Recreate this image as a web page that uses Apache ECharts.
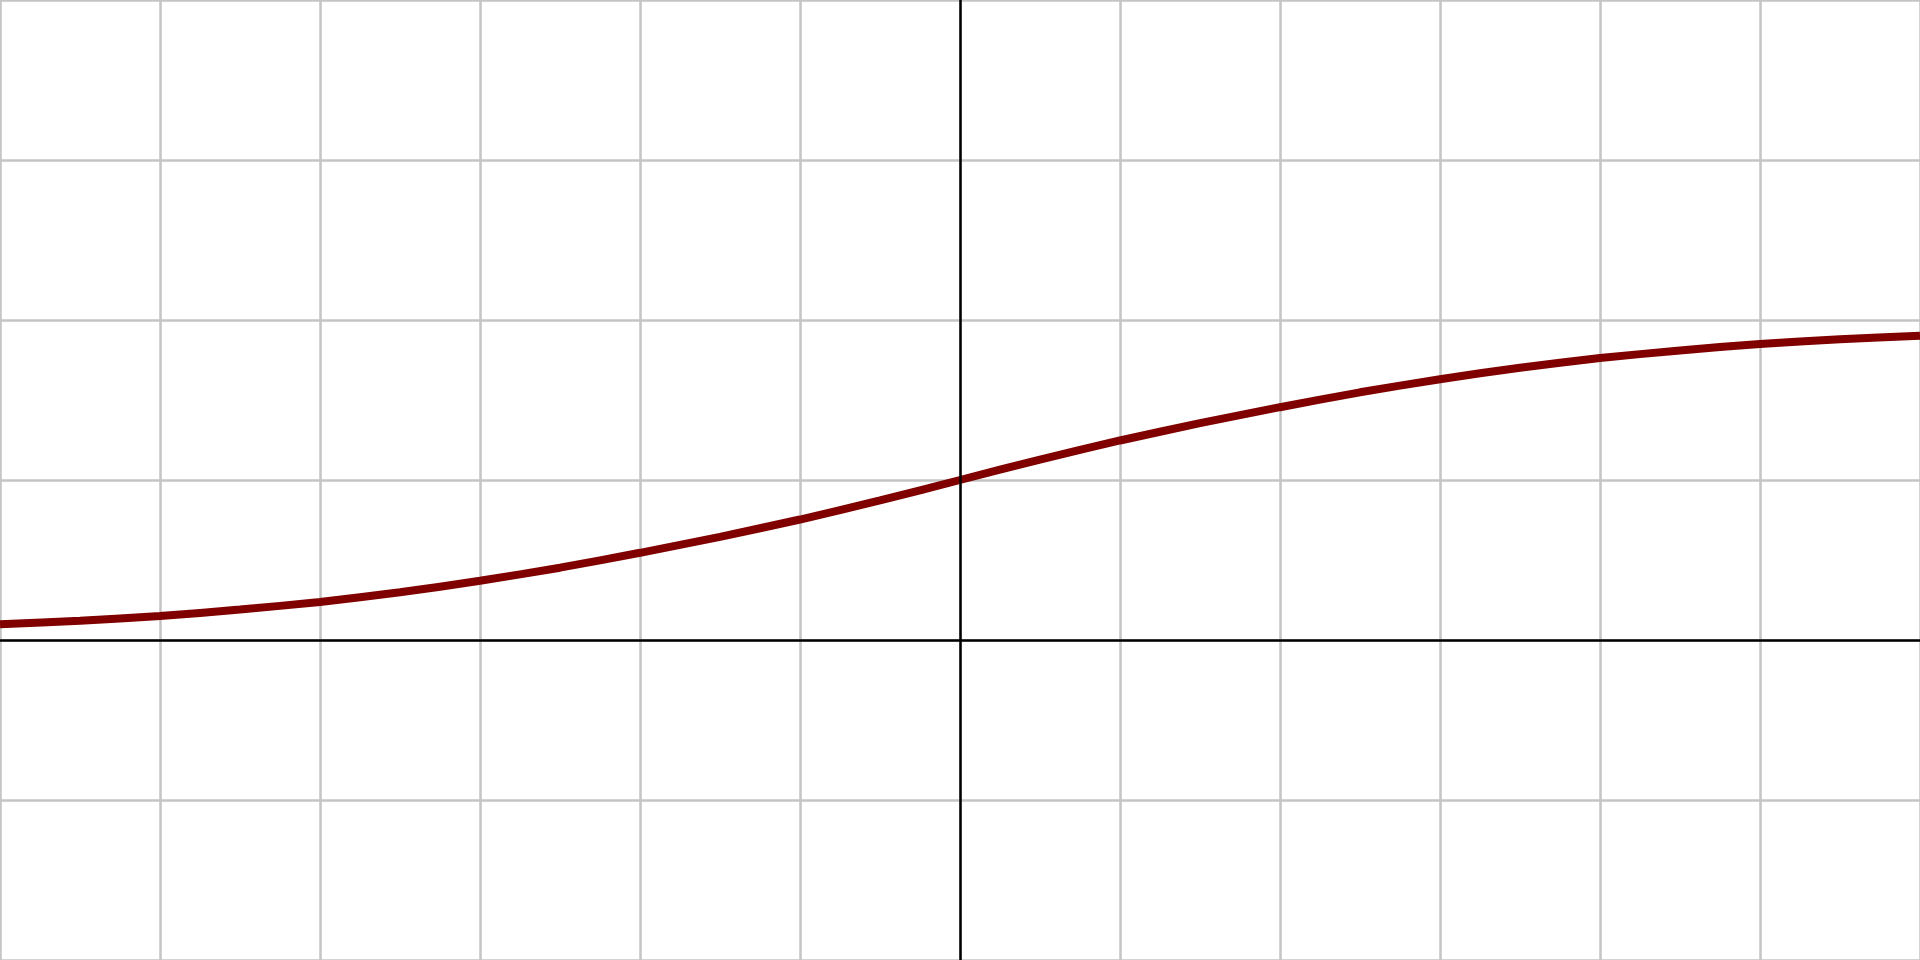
<!DOCTYPE html>
<html>
<head>
<meta charset="utf-8">
<title>curve</title>
<script src="https://cdn.jsdelivr.net/npm/echarts@6/dist/echarts.min.js"></script>
<style>
  html, body { margin: 0; padding: 0; background: #fff; }
  #chart { width: 1920px; height: 960px; }
</style>
</head>
<body>
<div id="chart"></div>
<script>
// values, every 0.5 along x
const xs = [-6, -5.5, -5, -4.5, -4, -3.5, -3, -2.5, -2, -1.5, -1, -0.5, 0,
  0.5, 1, 1.5, 2, 2.5, 3, 3.5, 4, 4.5, 5, 5.5, 6]
const ys = [0.098, 0.12, 0.15, 0.19, 0.238, 0.298, 0.37, 0.452, 0.545, 0.645, 0.753, 0.872, 1.0,
  1.128, 1.247, 1.355, 1.455, 1.548, 1.63, 1.702, 1.762, 1.81, 1.85, 1.88, 1.902]

const xRange = [-6, 6]
const yRange = [-2, 4]

const gridColor = '#c4c4c4'
const axisColor = '#000'
const curveColor = '#800000'

const hidden = { axisLabel: { show: false }, axisTick: { show: false } }

const chart = echarts.init(document.getElementById('chart'))

chart.setOption({
  animation: false,
  grid: { left: 0, right: 0, top: 0, bottom: 0 },
  xAxis: [
    {
      type: 'value', min: xRange[0], max: xRange[1], interval: 1, z: 0,
      axisLine: { show: false }, ...hidden,
      splitLine: { show: true, lineStyle: { color: gridColor, width: 2.5 } },
    },
    {
      type: 'value', min: xRange[0], max: xRange[1], interval: 1, z: 10, position: 'bottom',
      axisLine: { show: true, onZero: true, onZeroAxisIndex: 0, lineStyle: { color: axisColor, width: 2.5 } },
      splitLine: { show: false }, ...hidden,
    },
  ],
  yAxis: [
    {
      type: 'value', min: yRange[0], max: yRange[1], interval: 1, z: 0,
      axisLine: { show: false }, ...hidden,
      splitLine: { show: true, lineStyle: { color: gridColor, width: 2.5 } },
    },
    {
      type: 'value', min: yRange[0], max: yRange[1], interval: 1, z: 10, position: 'left',
      axisLine: { show: true, onZero: true, onZeroAxisIndex: 0, lineStyle: { color: axisColor, width: 2.5 } },
      splitLine: { show: false }, ...hidden,
    },
  ],
  series: [{
    type: 'line',
    xAxisIndex: 0,
    yAxisIndex: 0,
    z: 5,
    data: xs.map((x, i) => [x, ys[i]]),
    smooth: 0.2,
    showSymbol: false,
    lineStyle: { color: curveColor, width: 8 },
  }],
})
</script>
</body>
</html>
